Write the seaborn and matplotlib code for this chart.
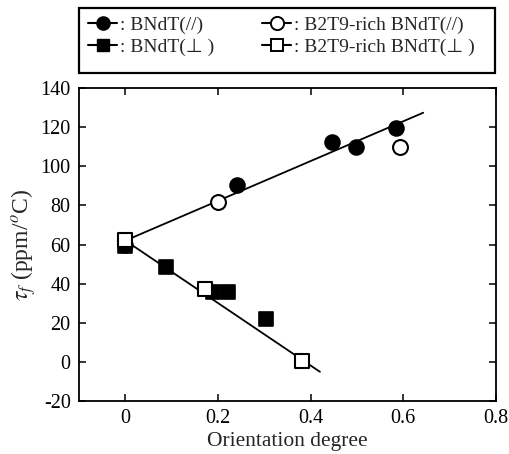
import matplotlib

matplotlib.use("Agg")
import matplotlib.pyplot as plt
import seaborn as sns
from matplotlib.lines import Line2D
from matplotlib.patches import Rectangle

# Values
bndt_par_x = [0.0, 0.24, 0.447, 0.498, 0.584]
bndt_par_y = [60.0, 90.5, 112.3, 109.7, 119.8]
rich_par_x = [0.199, 0.593]
rich_par_y = [81.6, 110.0]
bndt_perp_x = [0.0, 0.088, 0.189, 0.221, 0.304]
bndt_perp_y = [59.0, 48.6, 35.5, 35.5, 21.8]
rich_perp_x = [0.0, 0.171, 0.381]
rich_perp_y = [62.3, 37.0, 0.3]

# fitted guide lines (end points)
fit_par_x = [0.0, 0.643]
fit_par_y = [62.0, 127.5]
fit_perp_x = [0.0, 0.42]
fit_perp_y = [62.0, -5.2]

labels = [": BNdT(//)", ": BNdT(\u22a5 )",
          ": B2T9-rich BNdT(//)", ": B2T9-rich BNdT(\u22a5 )"]
x_ticks = [0, 0.2, 0.4, 0.6, 0.8]
y_ticks = [-20, 0, 20, 40, 60, 80, 100, 120, 140]

sns.set_theme(style="ticks")
plt.rcParams.update({
    "font.family": ["Liberation Serif", "DejaVu Sans"],
    "mathtext.fontset": "stix",
    "axes.unicode_minus": False,
    "axes.edgecolor": "black",
    "axes.linewidth": 1.3,
    "xtick.direction": "in",
    "ytick.direction": "in",
    "xtick.top": True,
    "ytick.right": True,
    "xtick.color": "black",
    "ytick.color": "black",
})

fig = plt.figure(figsize=(5.1, 4.54), dpi=100)
ax = fig.add_axes([0.155, 0.1174, 0.8175, 0.6881])

line_kw = dict(color="black", linewidth=1.3, legend=False, ax=ax)
sns.lineplot(x=fit_par_x, y=fit_par_y, **line_kw)
sns.lineplot(x=fit_perp_x, y=fit_perp_y, **line_kw)

ms = 115
sns.scatterplot(x=bndt_perp_x, y=bndt_perp_y, marker="s", s=ms, color="black",
                edgecolor="black", linewidth=1.2, zorder=3, ax=ax)
sns.scatterplot(x=bndt_par_x, y=bndt_par_y, marker="o", s=ms, color="black",
                edgecolor="black", linewidth=1.2, zorder=3, ax=ax)
sns.scatterplot(x=rich_par_x, y=rich_par_y, marker="o", s=ms, color="white",
                edgecolor="black", linewidth=1.5, zorder=4, ax=ax)
sns.scatterplot(x=rich_perp_x, y=rich_perp_y, marker="s", s=ms, color="white",
                edgecolor="black", linewidth=1.5, zorder=4, ax=ax)

ax.set_xlim(-0.1, 0.8)
ax.set_ylim(-20, 140)
ax.set_xticks(x_ticks)
ax.set_xticklabels(["0", "0.2", "0.4", "0.6", "0.8"])
ax.set_yticks(y_ticks)
ax.tick_params(labelsize=14.5, length=5, width=1.1, pad=6)
ax.set_xlabel("Orientation degree", fontsize=15.5, labelpad=3)
ax.set_ylabel(r"$\tau_f$ (ppm/$^o$C)", fontsize=17, labelpad=2)

handles = [
    Line2D([], [], color="black", lw=1.5, marker="o", ms=9.5, mfc="black", mec="black"),
    Line2D([], [], color="black", lw=1.5, marker="s", ms=8.5, mfc="black", mec="black"),
    Line2D([], [], color="black", lw=1.5, marker="o", ms=9.5, mfc="white", mec="black", mew=1.4),
    Line2D([], [], color="black", lw=1.5, marker="s", ms=8.5, mfc="white", mec="black", mew=1.4),
]
fig.legend(handles, labels, ncol=2, loc="upper left",
           bbox_to_anchor=(88 / 510, 1 - 16 / 454),
           fontsize=14, frameon=False, handlelength=1.5, handletextpad=0.15,
           labelspacing=0.25, borderaxespad=0.0, borderpad=0.0, columnspacing=2.45)
# legend box drawn separately so it spans the axes width like the reference
fig.patches.append(Rectangle((0.155, 0.839), 0.816, 0.143, transform=fig.transFigure,
                             fill=False, edgecolor="black", linewidth=1.6))

fig.savefig("out.png", dpi=100)
